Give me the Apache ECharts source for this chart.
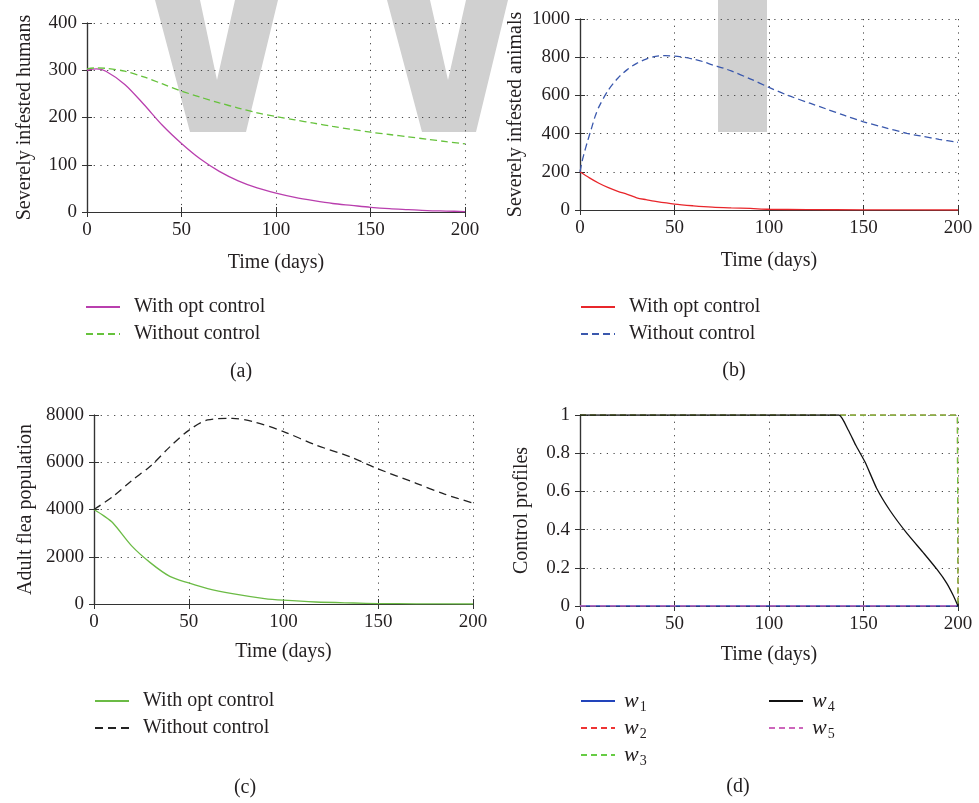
<!DOCTYPE html>
<html>
<head>
<meta charset="utf-8">
<script src="https://cdn.jsdelivr.net/npm/echarts@6/dist/echarts.min.js"></script>
<style>
html,body{margin:0;padding:0;background:#fff;}
#c{width:979px;height:803px;}
</style>
</head>
<body>
<div id="c"></div>
<script>
// ---------- data ----------
const xTicks = [0, 50, 100, 150, 200];

// (a) severely infested humans
const tA = [0,5,10,20,30,40,50,60,70,80,90,100,110,120,130,140,150,160,170,180,190,200];
const humansOpt = [300,303,298,270,228,183,145,112,86,66,51,40,31,24,18,14,10,7,5,3,2,1];
const humansNo  = [303,305,304,298,286,271,256,243,231,220,210,202,195,188,181,175,169,164,159,154,149,144];

// (b) severely infested animals
const tB = [0,1,2,4,6,8,10,15,20,25,30,35,40,45,50,55,60,65,70,76,80,90,100,110,122,130,140,150,160,173,180,190,200];
const animalsNo = [200,250,290,360,425,490,540,628,690,735,768,790,804,808,806,800,790,777,760,742,728,687,642,600,558,530,495,462,435,401,388,370,354];
const tB2 = [0,5,10,15,20,25,30,35,40,50,60,70,80,90,100,120,150,200];
const animalsOpt = [200,168,140,117,98,82,64,54,45,31,22,15,11,8,4,2,1,0];

// (c) adult flea population
const tC = [0,10,20,30,40,50,60,73,84,100,117,135,149,170,185,200];
const fleaNo = [4000,4550,5230,5850,6650,7350,7790,7860,7720,7300,6730,6240,5750,5110,4650,4270];
const tC2 = [0,5,10,20,30,40,50,60,73,90,100,117,137,150,170,200];
const fleaOpt = [4000,3740,3430,2450,1730,1170,890,650,440,230,160,85,42,20,8,0];

// (d) control profiles
const tD4 = [0,137,142,146,151,157,164,173,182,189,194,197.5,200];
const w4 = [1,1,0.92,0.84,0.75,0.615,0.5,0.38,0.275,0.19,0.12,0.055,0];
const tD23 = [0,199.7,200];
const w2 = [1,1,0];
const w3 = [1,1,0];
const tD15 = [0,200];
const w1 = [0,0];
const w5 = [0,0];

const LABELS = {
  a_opt:'With opt control', a_no:'Without control',
  b_opt:'With opt control', b_no:'Without control',
  c_opt:'With opt control', c_no:'Without control'
};

// ---------- helpers ----------
const FONT = 'Liberation Serif';
const TXT = '#231f20';
const zip = (xs, ys) => xs.map((x, i) => [x, ys[i]]);

const grids = [
  {left:87,  top:23,  width:378, height:189},
  {left:580, top:19,  width:378, height:191},
  {left:94,  top:415, width:379, height:189},
  {left:580, top:415, width:378, height:191}
];
const yCfg = [
  {min:0, max:400,  interval:100,  name:'Severely infested humans', gap:52},
  {min:0, max:1000, interval:200,  name:'Severely infested animals', gap:54},
  {min:0, max:8000, interval:2000, name:'Adult flea population', gap:58},
  {min:0, max:1,    interval:0.2,  name:'Control profiles', gap:48}
];
const xGap = [41, 41, 38, 39];

const xAxes = [], yAxes = [];
grids.forEach((g, i) => {
  const tick = {show:true, inside:true, length:5, lineStyle:{color:'#333', width:1}};
  const line = {show:true, lineStyle:{color:'#333', width:1.2}};
  const split = {show:true, lineStyle:{color:'#444', width:1, type:[1.2, 5.5]}};
  xAxes.push({
    type:'value', gridIndex:i, position:'bottom', min:0, max:200, interval:50,
    axisLine:line, axisTick:tick, splitLine:split,
    axisLabel:{fontFamily:FONT, fontSize:19, color:TXT, margin:9, formatter: v => String(v)},
    name:'Time (days)', nameLocation:'middle', nameGap:xGap[i],
    nameTextStyle:{fontFamily:FONT, fontSize:20, color:TXT}
  });
  xAxes.push({
    type:'value', gridIndex:i, position:'top', min:0, max:200, interval:50,
    axisLine:line, axisTick:tick, splitLine:{show:false}, axisLabel:{show:false}
  });
  const c = yCfg[i];
  yAxes.push({
    type:'value', gridIndex:i, position:'left', min:c.min, max:c.max, interval:c.interval,
    axisLine:line, axisTick:tick, splitLine:split,
    axisLabel:{fontFamily:FONT, fontSize:19, color:TXT, margin:10,
      formatter: v => String(Math.round(v * 10) / 10)},
    name:c.name, nameLocation:'middle', nameGap:c.gap,
    nameTextStyle:{fontFamily:FONT, fontSize:20, color:TXT}
  });
  yAxes.push({
    type:'value', gridIndex:i, position:'right', min:c.min, max:c.max, interval:c.interval,
    axisLine:line, axisTick:tick, splitLine:{show:false}, axisLabel:{show:false}
  });
});

function ser(name, gi, data, color, type, z, smooth) {
  return {
    name, type:'line', xAxisIndex:gi*2, yAxisIndex:gi*2, data,
    symbol:'none', silent:true, animation:false, z: z || 3,
    smooth: smooth === undefined ? 0.3 : smooth,
    lineStyle:{color, width:1.3, type: type || 'solid'},
    itemStyle:{color}
  };
}

const MAG = '#b93fae', GRNA = '#66c23c', RED = '#e8262b', BLUE = '#3a58ad',
      GRNC = '#6bbb45', BLK = '#222222';

const series = [
  ser('a_opt', 0, zip(tA, humansOpt), MAG),
  ser('a_no', 0, zip(tA, humansNo), GRNA, [7,4]),
  ser('b_opt', 1, zip(tB2, animalsOpt), RED),
  ser('b_no', 1, zip(tB, animalsNo), BLUE, [7,4]),
  ser('c_opt', 2, zip(tC2, fleaOpt), GRNC),
  ser('c_no', 2, zip(tC, fleaNo), BLK, [8,5]),
  ser('w1', 3, zip(tD15, w1), '#2244bb', 'solid', 3, false),
  ser('w2', 3, zip(tD23, w2), '#ee3333', [6,4], 4, false),
  ser('w3', 3, zip(tD23, w3), '#66cc44', [6,4], 5, false),
  ser('w4', 3, zip(tD4, w4), '#111111', 'solid', 6, 0.15),
  ser('w5', 3, zip(tD15, w5), '#cc66bb', [6,4], 7, false)
];

function leg(data, left, top, gapText, rich) {
  const o = {
    data, left, top, orient:'vertical', itemWidth:34, itemHeight:14, itemGap:7,
    padding:0, selectedMode:false, inactiveColor:'#ccc',
    itemStyle:{opacity:0},
    formatter: n => LABELS[n],
    textStyle:{fontFamily:FONT, fontSize:20, color:TXT, lineHeight:20, padding:[0,0,0,gapText]}
  };
  if (rich) {
    o.itemGap = 3;
    o.formatter = n => '{w|w}{s|' + n.slice(1) + '}';
    o.textStyle = {
      fontFamily:FONT, color:TXT, padding:[0,0,0,gapText],
      rich:{
        w:{fontFamily:FONT, fontStyle:'italic', fontSize:22, color:TXT, lineHeight:26, verticalAlign:'middle'},
        s:{fontFamily:FONT, fontSize:14, color:TXT, lineHeight:26, verticalAlign:'bottom', padding:[0,0,0,1]}
      }
    };
  }
  return o;
}

const legends = [
  leg(['a_opt','a_no'], 85, 297, 9),
  leg(['b_opt','b_no'], 580, 297, 9),
  leg(['c_opt','c_no'], 94, 691, 9),
  leg(['w1','w2','w3'], 580, 690, 4, true),
  leg(['w4','w5'], 768, 690, 4, true)
];

function label(t, x, y) {
  return {type:'text', x, y, z:10, silent:true,
    style:{text:t, font:'20px "Liberation Serif"', fill:TXT,
      align:'center', verticalAlign:'middle', textAlign:'center', textVerticalAlign:'middle'}};
}
const WM = '#d0d0d0';
const graphic = [
  {type:'polygon', z:-10, silent:true, shape:{points:[[155,0],[200,0],[217,80],[235,0],[278,0],[246,132],[190,132]]}, style:{fill:WM}},
  {type:'polygon', z:-10, silent:true, shape:{points:[[387,0],[430,0],[448,80],[466,0],[508,0],[476,132],[422,132]]}, style:{fill:WM}},
  {type:'rect', z:-10, silent:true, shape:{x:718, y:0, width:49, height:132}, style:{fill:WM}},
  label('(a)', 241, 372),
  label('(b)', 734, 371),
  label('(c)', 245, 788),
  label('(d)', 738, 787)
];

const chart = echarts.init(document.getElementById('c'), null, {renderer:'canvas'});
chart.setOption({
  animation:false,
  backgroundColor:'#ffffff',
  grid: grids.map(g => Object.assign({containLabel:false}, g)),
  xAxis: xAxes,
  yAxis: yAxes,
  legend: legends,
  series,
  graphic
});
</script>
</body>
</html>
